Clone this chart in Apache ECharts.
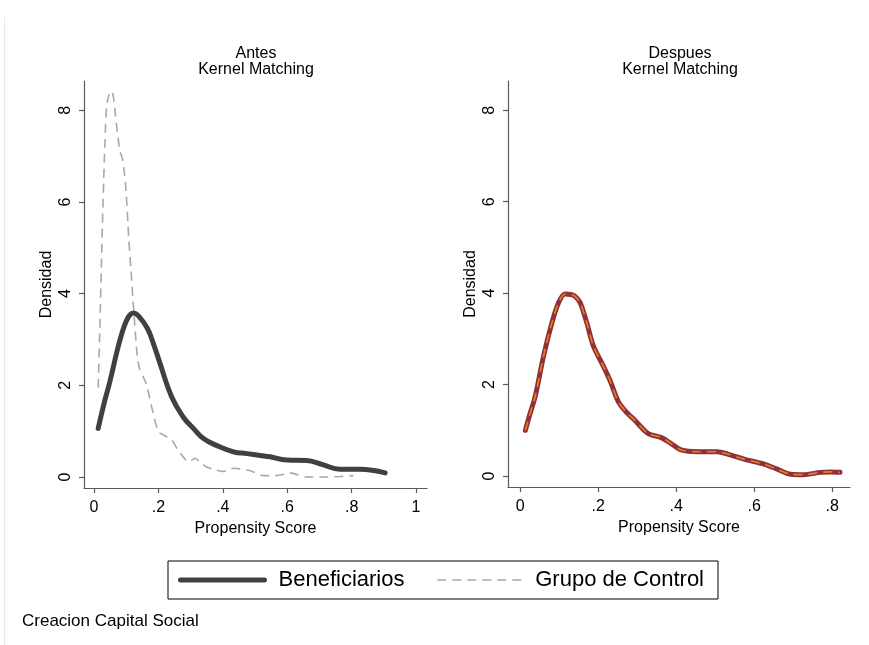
<!DOCTYPE html>
<html>
<head>
<meta charset="utf-8">
<script src="https://cdn.jsdelivr.net/npm/echarts@6/dist/echarts.min.js"></script>
<style>
html,body{margin:0;padding:0;background:#fff;}
#chart{width:869px;height:645px;}
</style>
</head>
<body>
<div id="chart"></div>
<script>
// ---- Data ----
var antesBenefX = [0.013,0.03,0.05,0.07,0.086,0.10,0.112,0.122,0.14,0.166,0.185,0.205,0.241,0.277,0.31,0.34,0.38,0.433,0.475,0.516,0.547,0.598,0.66,0.71,0.764,0.826,0.904];
var antesBenefY = [1.06,1.57,2.1,2.7,3.12,3.4,3.54,3.58,3.5,3.24,2.9,2.48,1.75,1.31,1.05,0.84,0.69,0.55,0.51,0.47,0.44,0.37,0.36,0.27,0.17,0.17,0.09];

var antesControlX = [0.013,0.018,0.024,0.029,0.034,0.039,0.047,0.055,0.06,0.065,0.073,0.081,0.088,0.095,0.10,0.108,0.115,0.124,0.135,0.143,0.155,0.164,0.18,0.2,0.22,0.241,0.26,0.277,0.293,0.314,0.33,0.35,0.375,0.402,0.433,0.484,0.526,0.567,0.609,0.66,0.722,0.764,0.805];
var antesControlY = [1.95,3.2,4.9,6.2,7.3,8.08,8.35,8.42,8.3,8.0,7.5,7.1,6.95,6.6,6.2,5.2,4.5,3.57,2.6,2.33,2.15,2.0,1.5,0.99,0.9,0.81,0.6,0.44,0.33,0.41,0.32,0.22,0.16,0.12,0.19,0.14,0.03,0.03,0.09,0.0,0.0,0.01,0.03];

var despuesBenefX = [0.0136,0.025,0.039,0.06,0.0815,0.0985,0.115,0.13,0.141,0.154,0.171,0.188,0.213,0.23,0.251,0.27,0.294,0.328,0.362,0.387,0.413,0.455,0.506,0.532,0.574,0.625,0.659,0.693,0.727,0.77,0.795,0.82];
var despuesBenefY = [1.0,1.35,1.75,2.62,3.35,3.79,3.98,3.97,3.93,3.79,3.35,2.84,2.41,2.1,1.64,1.42,1.22,0.93,0.84,0.71,0.57,0.53,0.53,0.48,0.37,0.26,0.15,0.04,0.03,0.08,0.09,0.08];

var despuesControlX = [0.0136,0.025,0.039,0.06,0.0815,0.0985,0.115,0.13,0.141,0.154,0.171,0.188,0.213,0.23,0.251,0.27,0.294,0.328,0.362,0.387,0.413,0.455,0.506,0.532,0.574,0.625,0.659,0.693,0.727,0.77,0.795,0.82];
var despuesControlY = [1.0,1.35,1.75,2.62,3.35,3.79,3.98,3.97,3.93,3.79,3.35,2.84,2.41,2.1,1.64,1.42,1.22,0.93,0.84,0.71,0.57,0.53,0.53,0.48,0.37,0.26,0.15,0.04,0.03,0.08,0.09,0.08];

var xTicksLeft = [0,0.2,0.4,0.6,0.8,1];
var xTicksRight = [0,0.2,0.4,0.6,0.8];
var yTicks = [0,2,4,6,8];

var seriesNames = ['Beneficiarios','Grupo de Control'];
var panelTitles = ['Antes\nKernel Matching','Despues\nKernel Matching'];
var xAxisTitle = 'Propensity Score';
var yAxisTitle = 'Densidad';
var noteText = 'Creacion Capital Social';

// ---- Build ----
function pairs(xs, ys){ return xs.map(function(x,i){ return [x, ys[i]]; }); }
function fmtX(v){
  if (v === 0) return '0';
  if (v === 1) return '1';
  return String(v).replace(/^0/, '');
}
var FONT = 'Liberation Sans, Arial, Helvetica, sans-serif';
var AX = '#5a5a5a';

function makeX(idx, ticks, max){
  return {
    type:'value', gridIndex: idx, min: -0.031, max: max,
    axisLine:{onZero:false, lineStyle:{color:AX, width:1.2}},
    axisTick:{show:true, length:5, customValues: ticks, lineStyle:{color:AX, width:1.2}},
    axisLabel:{customValues: ticks, formatter: fmtX, color:'#000', fontSize:16, fontFamily:FONT, margin:12},
    splitLine:{show:false},
    name: xAxisTitle, nameLocation:'middle', nameGap:27,
    nameTextStyle:{color:'#000', fontSize:16, fontFamily:FONT}
  };
}
function makeY(idx){
  return {
    type:'value', gridIndex: idx, min: -0.24, max: 8.64,
    axisLine:{show:true, onZero:false, lineStyle:{color:AX, width:1.2}},
    axisTick:{show:true, length:5, customValues: yTicks, lineStyle:{color:AX, width:1.2}},
    axisLabel:{customValues: yTicks, rotate:90, color:'#000', fontSize:16, fontFamily:FONT, margin:10},
    splitLine:{show:false},
    name: yAxisTitle, nameLocation:'middle', nameGap:29,
    nameTextStyle:{color:'#000', fontSize:16, fontFamily:FONT}
  };
}

var chart = echarts.init(document.getElementById('chart'), null, {renderer:'canvas'});
chart.setOption({
  backgroundColor:'#ffffff',
  animation:false,
  grid:[
    {left:84, top:81, width:343, height:407},
    {left:508, top:81, width:342, height:406}
  ],
  xAxis:[ makeX(0, xTicksLeft, 1.034), makeX(1, xTicksRight, 0.8455) ],
  yAxis:[ makeY(0), makeY(1) ],
  legend:{
    data:[
      {name: seriesNames[0], itemStyle:{opacity:0}, lineStyle:{width:5, color:'#404040'}},
      {name: seriesNames[1], itemStyle:{opacity:0}, lineStyle:{width:1.6, color:'#a8a8a8', type:[9,6]}}
    ],
    left:168, top:561,
    orient:'horizontal',
    padding:[8,14,8,10],
    itemWidth:84, itemHeight:14, itemGap:32,
    borderColor:'#000', borderWidth:1,
    textStyle:{color:'#000', fontSize:22, fontFamily:FONT, padding:[0,0,0,9]},
    selectedMode:false
  },
  graphic:[
    {type:'line', shape:{x1:4.5,y1:17,x2:4.5,y2:645}, style:{stroke:'#e4ebee', lineWidth:1}, silent:true},
    {type:'text', x:256, y:46, style:{text:panelTitles[0], textAlign:'center', fill:'#000', font:'16px '+FONT, lineHeight:16}},
    {type:'text', x:680, y:46, style:{text:panelTitles[1], textAlign:'center', fill:'#000', font:'16px '+FONT, lineHeight:16}},
    {type:'text', x:22, y:613, style:{text:noteText, fill:'#000', font:'17px '+FONT}}
  ],
  series:[
    {name:seriesNames[0], type:'line', xAxisIndex:0, yAxisIndex:0, data:pairs(antesBenefX, antesBenefY),
     symbol:'none', smooth:0.45, z:3,
     lineStyle:{color:'#404040', width:5, cap:'round', join:'round'}, itemStyle:{color:'#404040'}},
    {name:seriesNames[1], type:'line', xAxisIndex:0, yAxisIndex:0, data:pairs(antesControlX, antesControlY),
     symbol:'none', smooth:0.25, z:2,
     lineStyle:{color:'#a8a8a8', width:1.6, type:[9,6]}, itemStyle:{color:'#a8a8a8'}},
    {name:'Beneficiarios (despues)', type:'line', xAxisIndex:1, yAxisIndex:1, data:pairs(despuesBenefX, despuesBenefY),
     symbol:'none', smooth:0.3, z:2,
     lineStyle:{color:'#8f3138', width:5, cap:'round', join:'round'}},
    {name:'Grupo de Control (despues)', type:'line', xAxisIndex:1, yAxisIndex:1, data:pairs(despuesControlX, despuesControlY),
     symbol:'none', smooth:0.3, z:3,
     lineStyle:{color:'#e8801e', width:1.6, type:[9,6]}}
  ]
});
</script>
</body>
</html>
